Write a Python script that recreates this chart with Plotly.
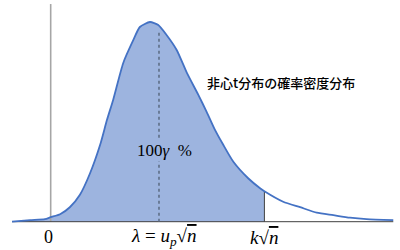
import plotly.graph_objects as go

# curve (x in units where 0 -> origin line, lambda = 3)
x_vals = [-1.07, -0.57, -0.16, 0.0, 0.26, 0.53, 0.81, 1.09, 1.37, 1.56, 1.73, 2.01, 2.29, 2.47,
          2.75, 2.98, 3.21, 3.49, 3.78, 4.09, 4.32, 4.53, 4.78, 5.06, 5.47, 5.80, 5.92,
          6.44, 6.91, 7.37, 7.83, 8.29, 8.75, 9.49]
density = [0.000, 0.003, 0.005, 0.009, 0.015, 0.029, 0.054, 0.097, 0.154, 0.204, 0.244, 0.318,
           0.364, 0.390, 0.400, 0.394, 0.374, 0.344, 0.297, 0.254, 0.220, 0.187, 0.154, 0.120,
           0.087, 0.067, 0.061, 0.040, 0.029, 0.018, 0.013, 0.008, 0.005, 0.003]
lam = 3.0
k_sqrt_n = 5.92
lam_line_top = 0.383
axis_top = 0.436
title_text = "非心t分布の確率密度分布"
area_text = "100<i>γ</i>\u00a0\u00a0%"
tick_zero = "0"
tick_lam = "<i>λ</i> = <i>u</i><sub><i>p</i></sub>√<span style='text-decoration:overline'><i>n</i></span>"
tick_k = "<i>k</i>√<span style='text-decoration:overline'><i>n</i></span>"

fill_x = [x for x in x_vals if x <= k_sqrt_n]
fill_y = density[:len(fill_x)]
k_y = density[len(fill_x) - 1]

LINE = "#4472c4"
FILL = "#9db4df"
SMOOTH = 0.6

fig = go.Figure()
fig.add_trace(go.Scatter(x=fill_x, y=fill_y, mode="lines",
                         line=dict(width=0, shape="spline", smoothing=SMOOTH),
                         fill="tozeroy", fillcolor=FILL, hoverinfo="skip"))
# vertical origin axis
fig.add_trace(go.Scatter(x=[0, 0], y=[0, axis_top], mode="lines",
                         line=dict(color="#a6a6a6", width=1.6), hoverinfo="skip"))
# baseline
fig.add_trace(go.Scatter(x=[x_vals[0], x_vals[-1]], y=[0, 0], mode="lines",
                         line=dict(color="#404040", width=1), hoverinfo="skip"))
# k sqrt(n) line
fig.add_trace(go.Scatter(x=[k_sqrt_n, k_sqrt_n], y=[0, k_y], mode="lines",
                         line=dict(color="#404040", width=1), hoverinfo="skip"))
# lambda dashed line
fig.add_trace(go.Scatter(x=[lam, lam], y=[0, lam_line_top], mode="lines",
                         line=dict(color="#5a6a80", width=1.5, dash="dot"), hoverinfo="skip"))
# curve
fig.add_trace(go.Scatter(x=x_vals, y=density, mode="lines",
                         line=dict(color=LINE, width=1.8, shape="spline", smoothing=SMOOTH),
                         hoverinfo="skip"))

serif = "Liberation Serif, DejaVu Serif, serif"
fig.add_annotation(x=6.39, y=0.278, text=title_text, showarrow=False,
                   font=dict(family="Noto Sans CJK JP", size=13, color="black", weight=500))
fig.add_annotation(x=3.16, y=0.143, text=area_text, showarrow=False, bgcolor=FILL,
                   font=dict(family=serif, size=17, color="black"))
fig.add_annotation(x=-0.05, y=-0.031, text=tick_zero, showarrow=False,
                   font=dict(family=serif, size=18, color="black"))
fig.add_annotation(x=3.14, y=-0.031, text=tick_lam, showarrow=False,
                   font=dict(family=serif, size=19, color="black"))
fig.add_annotation(x=k_sqrt_n, y=-0.031, text=tick_k, showarrow=False,
                   font=dict(family=serif, size=19, color="black"))

fig.update_layout(width=400, height=250, margin=dict(l=0, r=0, t=0, b=0),
                  paper_bgcolor="white", plot_bgcolor="white", showlegend=False,
                  xaxis=dict(range=[-1.404, 9.676], visible=False, fixedrange=True),
                  yaxis=dict(range=[-0.0567, 0.4441], visible=False, fixedrange=True))

fig.write_html("out.html", config={"displayModeBar": False})
